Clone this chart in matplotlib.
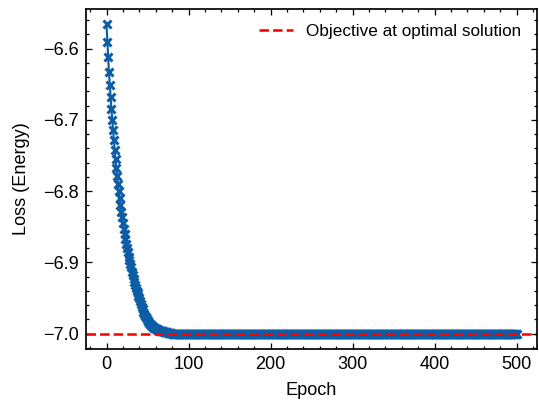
import matplotlib
matplotlib.use("Agg")
import matplotlib.pyplot as plt
from matplotlib.ticker import AutoMinorLocator

plt.rcParams['font.family'] = ['Liberation Sans', 'DejaVu Sans']
plt.rcParams['font.size'] = 8

# loss per epoch (decay phase, then plateau at -7)
loss_decay = [
    -6.566, -6.590, -6.611, -6.633, -6.651, -6.668, -6.685, -6.700, -6.714, -6.728,
    -6.742, -6.755, -6.767, -6.779, -6.790, -6.800, -6.810, -6.820, -6.829, -6.837,
    -6.845, -6.853, -6.860, -6.867, -6.874, -6.880, -6.886, -6.892, -6.897, -6.902,
    -6.907, -6.913, -6.918, -6.923, -6.927, -6.932, -6.936, -6.940, -6.943, -6.947,
    -6.950, -6.955, -6.959, -6.963, -6.966, -6.970, -6.972, -6.975, -6.977, -6.980,
    -6.982, -6.983, -6.985, -6.986, -6.988, -6.989, -6.990, -6.991, -6.992, -6.992,
    -6.993, -6.994, -6.994, -6.995, -6.995, -6.996, -6.996, -6.997, -6.997, -6.997,
    -6.998, -6.998, -6.998, -6.998, -6.998, -6.999, -6.999, -6.999, -6.999, -6.999,
]
loss_plateau = [-7.0] * 421
loss = loss_decay + loss_plateau
epochs = list(range(len(loss)))
optimal_value = -7.0

fig = plt.figure(figsize=(3.5, 403 / 154), dpi=154)
ax = fig.add_axes([86 / 539, 1 - 349 / 403, (537 - 86) / 539, (349 - 9) / 403])

ax.plot(epochs, loss, color='#0C5DA5', marker='x', markersize=4.2,
        markeredgewidth=1.4, linewidth=1.0)
ax.axhline(optimal_value, color='red', linestyle='--', linewidth=1.2,
           label='Objective at optimal solution')

ax.set_xlabel('Epoch', fontsize=8.5)
ax.set_ylabel('Loss (Energy)', fontsize=8.5, labelpad=6)
ax.legend(loc='upper right', frameon=False)

ax.xaxis.set_minor_locator(AutoMinorLocator(5))
ax.yaxis.set_minor_locator(AutoMinorLocator(5))
ax.tick_params(which='both', direction='in', top=True, right=True, width=0.6,
               labelsize=8.5)
ax.tick_params(which='major', length=3)
ax.tick_params(which='minor', length=1.5)
for s in ax.spines.values():
    s.set_linewidth(0.8)

fig.savefig('out.png', dpi=154)
